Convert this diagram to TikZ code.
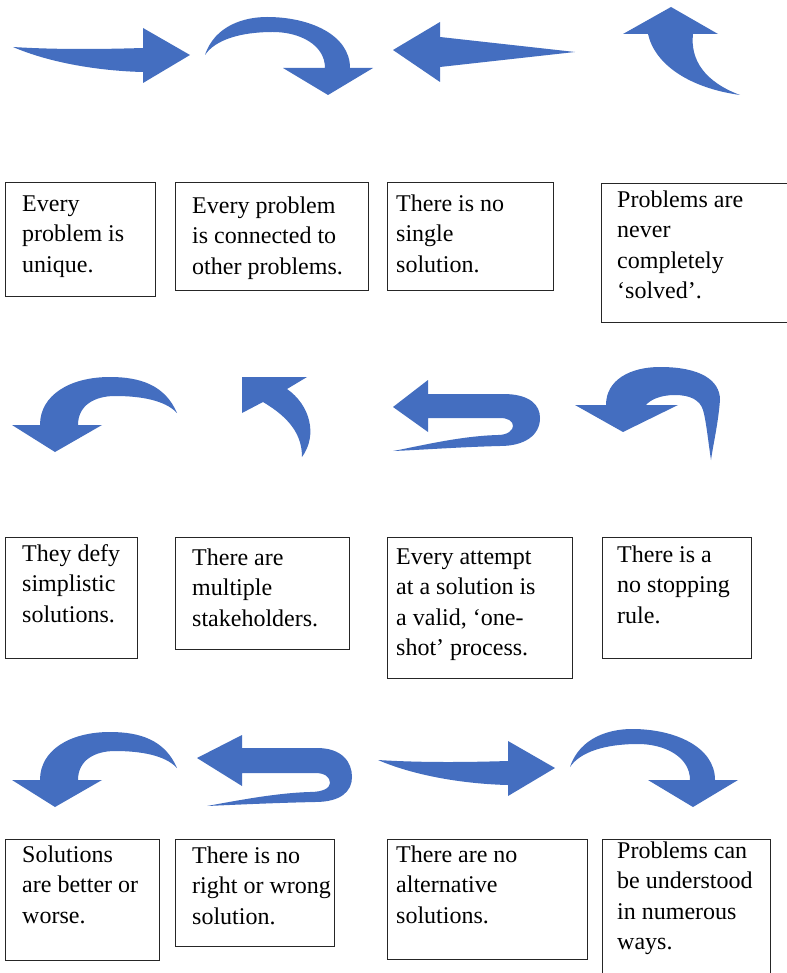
\documentclass[tikz,border=0pt]{standalone}
\usepackage{fontspec}
\setmainfont{Liberation Serif}
\definecolor{arrblue}{RGB}{68,110,192}
\begin{document}
\begin{tikzpicture}[x=1pt,y=-1pt,
  box/.style={draw=black!85, line width=1.1pt, anchor=north west, inner sep=0pt},
  txt/.style={anchor=north west, inner sep=0pt, align=left, font=\rmfamily\fontsize{24}{30.5}\selectfont, text=black},
  arr/.style={fill=arrblue}]
\useasboundingbox[fill=white] (0,0) rectangle (786,973);

% ---------- row 1 arrows ----------
\fill[arr] (13,47) .. controls (60,50) and (110,49) .. (143,48) -- (143,28) -- (190,55) -- (143,83) -- (143,72) .. controls (100,71) and (50,63) .. (13,47) -- cycle;
\fill[arr] (205,55) .. controls (215,25) and (245,17) .. (267,17) .. controls (310,17) and (350,35) .. (350,68) -- (373,68) -- (328,95) -- (283,68) -- (325,68) .. controls (325,45) and (300,32) .. (273,32) .. controls (240,32) and (215,40) .. (205,55) -- cycle;
\fill[arr] (393,50) -- (440,22) -- (440,37) -- (575,52) -- (440,67) -- (440,82) -- cycle;
\fill[arr] (671,7) -- (718,34) -- (693,34) .. controls (690,60) and (705,82) .. (740,95) .. controls (690,88) and (655,65) .. (648,34) -- (623,34) -- cycle;

% ---------- row 2 arrows ----------
\fill[arr] (177,413) .. controls (165,385) and (140,377) .. (110,377) .. controls (70,377) and (40,395) .. (40,425) -- (12,425) -- (55,452) -- (102,425) -- (78,425) .. controls (78,405) and (95,396) .. (115,396) .. controls (140,396) and (165,400) .. (177,413) -- cycle;
\fill[arr] (242,377) -- (307,377) -- (287,389) .. controls (310,405) and (318,435) .. (302,457) .. controls (302,435) and (290,418) .. (263,402) -- (242,413) -- cycle;
\fill[arr] (393,407) -- (428,380) -- (428,394) -- (503,394) .. controls (530,394) and (540,405) .. (540,418) .. controls (540,435) and (525,446) .. (500,446) .. controls (460,447) and (420,450) .. (393,451) .. controls (420,446) and (460,436) .. (498,435) .. controls (508,435) and (513,430) .. (513,426) .. controls (513,421) and (508,418) .. (500,418) -- (428,418) -- (428,432) -- cycle;
\fill[arr] (575,405) -- (606,405) .. controls (606,380) and (630,367) .. (660,367) .. controls (700,367) and (720,380) .. (720,400) .. controls (718,425) and (713,445) .. (711,460) .. controls (708,440) and (706,420) .. (703,410) .. controls (700,400) and (690,395) .. (675,395) .. controls (660,395) and (650,400) .. (646,405) -- (678,405) -- (623,432) -- cycle;

% ---------- row 3 arrows ----------
\begin{scope}[shift={(0,355)}]
\fill[arr] (177,413) .. controls (165,385) and (140,377) .. (110,377) .. controls (70,377) and (40,395) .. (40,425) -- (12,425) -- (55,452) -- (102,425) -- (78,425) .. controls (78,405) and (95,396) .. (115,396) .. controls (140,396) and (165,400) .. (177,413) -- cycle;
\end{scope}
\fill[arr] (197,758) -- (242,735) -- (242,748) -- (317,748) .. controls (342,748) and (352,762) .. (352,777) .. controls (352,792) and (340,802) .. (315,802) .. controls (270,803) and (230,805) .. (207,806) .. controls (235,801) and (275,793) .. (310,792) .. controls (323,792) and (330,788) .. (330,783) .. controls (330,777) and (325,773) .. (315,773) -- (242,773) -- (242,786) -- cycle;
\begin{scope}[shift={(365,713)}]
\fill[arr] (13,47) .. controls (60,50) and (110,49) .. (143,48) -- (143,28) -- (190,55) -- (143,83) -- (143,72) .. controls (100,71) and (50,63) .. (13,47) -- cycle;
\end{scope}
\begin{scope}[shift={(365,712)}]
\fill[arr] (205,55) .. controls (215,25) and (245,17) .. (267,17) .. controls (310,17) and (350,35) .. (350,68) -- (373,68) -- (328,95) -- (283,68) -- (325,68) .. controls (325,45) and (300,32) .. (273,32) .. controls (240,32) and (215,40) .. (205,55) -- cycle;
\end{scope}

% ---------- row 1 boxes ----------
\node[box, minimum width=150pt, minimum height=114pt] (b1) at (5,182) {};
\node[box, minimum width=193pt, minimum height=108pt] (b2) at (175,182) {};
\node[box, minimum width=166pt, minimum height=108pt] (b3) at (387,182) {};
\node[box, minimum width=189pt, minimum height=139pt] (b4) at (601,183) {};
\node[txt] (t1) at (22,189.6) {\strut Every\\problem is\\unique.};
\node[txt] (t2) at (192,191.6) {\strut Every problem\\is connected to\\other problems.};
\node[txt] (t3) at (396,189.6) {\strut There is no\\single\\solution.};
\node[txt] (t4) at (617,185.6) {\strut Problems are\\never\\completely\\‘solved’.};

% ---------- row 2 boxes ----------
\node[box, minimum width=132pt, minimum height=121pt] (b5) at (5,537) {};
\node[box, minimum width=174pt, minimum height=112pt] (b6) at (175,537) {};
\node[box, minimum width=185pt, minimum height=141pt] (b7) at (387,537) {};
\node[box, minimum width=149pt, minimum height=121pt] (b8) at (602,537) {};
\node[txt] (t5) at (22,539.6) {\strut They defy\\simplistic\\solutions.};
\node[txt] (t6) at (192,543.6) {\strut There are\\multiple\\stakeholders.};
\node[txt] (t7) at (396,542.6) {\strut Every attempt\\at a solution is\\a valid, ‘one-\\shot’ process.};
\node[txt] (t8) at (617,540.6) {\strut There is a\\no stopping\\rule.};

% ---------- row 3 boxes ----------
\node[box, minimum width=154pt, minimum height=121pt] (b9) at (5,839) {};
\node[box, minimum width=159pt, minimum height=107pt] (b10) at (175,839) {};
\node[box, minimum width=200pt, minimum height=120pt] (b11) at (387,839) {};
\node[box, minimum width=168pt, minimum height=151pt] (b12) at (602,839) {};
\node[txt] (t9) at (22,840.6) {\strut Solutions\\are better or\\worse.};
\node[txt] (t10) at (192,841.6) {\strut There is no\\right or wrong\\solution.};
\node[txt] (t11) at (396,840.6) {\strut There are no\\alternative\\solutions.};
\node[txt] (t12) at (617,836.6) {\strut Problems can\\be understood\\in numerous\\ways.};
\end{tikzpicture}
\end{document}
